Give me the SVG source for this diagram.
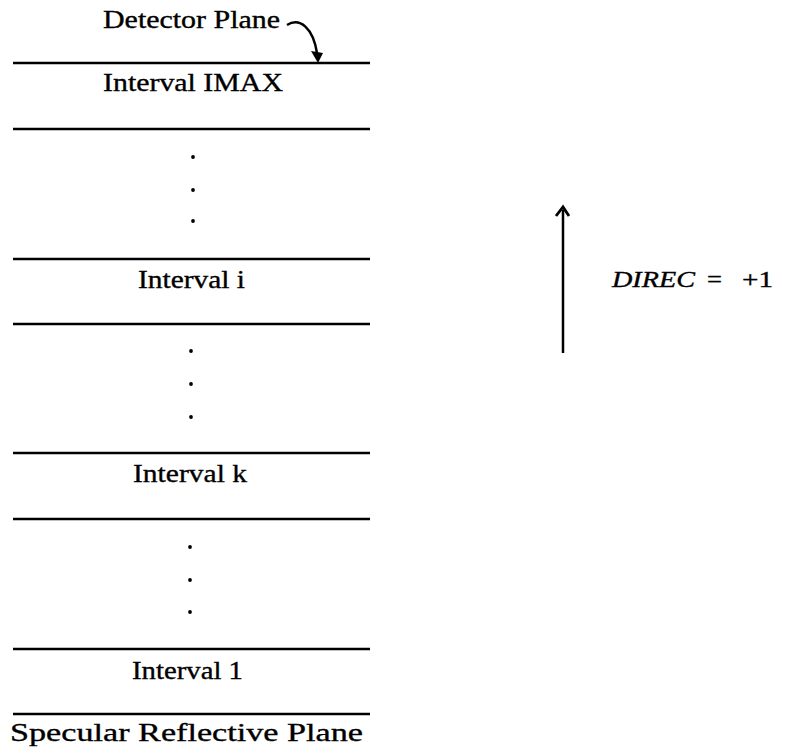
<svg xmlns="http://www.w3.org/2000/svg" width="787" height="748" viewBox="0 0 787 748">
<style>
.t{font-family:"Liberation Serif","Times New Roman",serif;font-size:26px;fill:#000;stroke:#000;stroke-width:0.35}
.ln{stroke:#000;stroke-width:2.5;fill:none}
.dot{fill:#000}
</style>
<rect width="787" height="748" fill="#fff"/>
<g id="planes">
<line class="ln" x1="13" y1="63" x2="370" y2="63"/>
<line class="ln" x1="13" y1="129" x2="370" y2="129"/>
<line class="ln" x1="13" y1="259" x2="370" y2="259"/>
<line class="ln" x1="13" y1="324" x2="370" y2="324"/>
<line class="ln" x1="13" y1="453" x2="370" y2="453"/>
<line class="ln" x1="13" y1="519" x2="370" y2="519"/>
<line class="ln" x1="13" y1="649" x2="370" y2="649"/>
<line class="ln" x1="13" y1="714" x2="370" y2="714"/>
</g>
<g id="label-detector"><text class="t" x="103" y="28" textLength="177" lengthAdjust="spacingAndGlyphs">Detector Plane</text></g>
<g id="interval-imax"><text class="t" x="103" y="91" textLength="180" lengthAdjust="spacingAndGlyphs">Interval IMAX</text></g>
<g id="dots-1">
<circle class="dot" cx="193" cy="157" r="1.9"/><circle class="dot" cx="193" cy="190" r="1.9"/><circle class="dot" cx="193" cy="221" r="1.9"/>
</g>
<g id="interval-i"><text class="t" x="138" y="288" textLength="107" lengthAdjust="spacingAndGlyphs">Interval i</text></g>
<g id="dots-2">
<circle class="dot" cx="191" cy="351" r="1.9"/><circle class="dot" cx="191" cy="384" r="1.9"/><circle class="dot" cx="191" cy="417" r="1.9"/>
</g>
<g id="interval-k"><text class="t" x="133" y="482" textLength="114" lengthAdjust="spacingAndGlyphs">Interval k</text></g>
<g id="dots-3">
<circle class="dot" cx="190" cy="547" r="1.9"/><circle class="dot" cx="190" cy="580" r="1.9"/><circle class="dot" cx="190" cy="612" r="1.9"/>
</g>
<g id="interval-1"><text class="t" x="132" y="679" textLength="111" lengthAdjust="spacingAndGlyphs">Interval 1</text></g>
<g id="label-specular"><text class="t" x="10" y="741" textLength="353" lengthAdjust="spacingAndGlyphs">Specular Reflective Plane</text></g>
<g id="connectors">
<path d="M287,25 C300,17 313,28 317,53" fill="none" stroke="#000" stroke-width="2.5"/>
<polygon points="311,51 323,53 318,63" fill="#000"/>
<line x1="563" y1="210" x2="563" y2="353" stroke="#000" stroke-width="2.5"/>
<polyline points="556,216 563,207 569,216" fill="none" stroke="#000" stroke-width="2.8" stroke-linejoin="miter"/>
</g>
<g id="label-direc">
<text class="t" y="287" style="font-size:23px"><tspan x="612" font-style="italic" textLength="83" lengthAdjust="spacingAndGlyphs">DIREC</tspan><tspan x="707" textLength="15" lengthAdjust="spacingAndGlyphs">=</tspan><tspan x="742" textLength="31" lengthAdjust="spacingAndGlyphs">+1</tspan></text>
</g>
</svg>
